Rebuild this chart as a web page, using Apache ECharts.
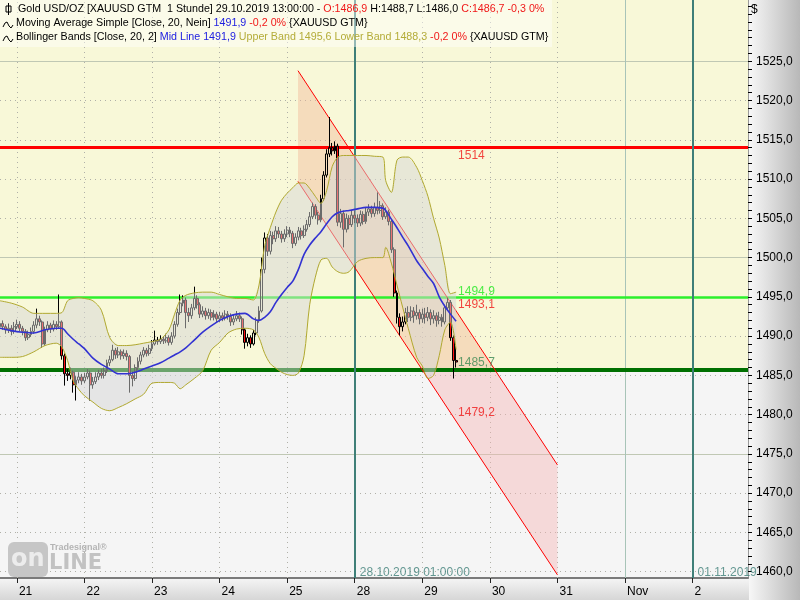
<!DOCTYPE html>
<html>
<head>
<meta charset="utf-8">
<title>Gold USD/OZ</title>
<script src="https://cdn.jsdelivr.net/npm/echarts@6.0.0/dist/echarts.min.js"></script>
<style>
  html, body { margin: 0; padding: 0; background: #fff; }
  #chart { width: 800px; height: 600px; }
</style>
</head>
<body>
<div id="chart"></div>
<script>
// Gold XAUUSD 1h, 18.10. evening .. 29.10.2019 13:00, 24 bars per trading day
const dayLabels = ['21', '22', '23', '24', '25', '28', '29', '30', '31', 'Nov', '2'];
const yLabels = [1460, 1465, 1470, 1475, 1480, 1485, 1490, 1495, 1500, 1505, 1510, 1515, 1520, 1525];

const firstOpen = 1491.2;
const closes = [
  1491.6, 1491.2, 1490.8, 1491.0, 1490.6, 1491.2,
  // 21
  1491.5, 1491.0, 1490.6, 1489.8, 1490.2, 1490.6, 1491.4, 1492.2, 1491.8, 1489.0, 1490.8, 1491.4,
  1490.9, 1491.5, 1491.2, 1491.8, 1487.5, 1485.2, 1485.0, 1485.4, 1483.8, 1484.4, 1484.8, 1484.3,
  // 22
  1484.8, 1485.3, 1483.8, 1484.2, 1484.8, 1485.3, 1485.0, 1485.6, 1486.6, 1487.0, 1488.2, 1487.6,
  1488.0, 1487.5, 1487.8, 1487.4, 1485.0, 1484.6, 1486.0, 1486.8, 1487.6, 1488.2, 1487.8, 1488.4,
  // 23
  1489.0, 1489.5, 1489.3, 1489.6, 1489.4, 1489.8, 1489.2, 1490.0, 1491.5, 1493.0, 1494.2, 1494.6,
  1493.0, 1492.6, 1493.6, 1494.8, 1494.0, 1492.8, 1493.2, 1492.6, 1493.0, 1492.4, 1492.8, 1492.2,
  // 24
  1492.6, 1492.3, 1492.8, 1492.5, 1491.8, 1492.2, 1492.6, 1492.2, 1490.8, 1489.2, 1489.8, 1489.0,
  1490.4, 1492.0, 1493.2, 1498.5, 1502.5, 1500.8, 1502.8, 1502.4, 1503.4, 1503.0, 1502.4, 1503.0,
  // 25
  1503.5, 1503.1, 1501.8, 1502.6, 1503.4, 1502.8, 1503.6, 1504.2, 1505.2, 1506.5, 1505.4, 1504.8,
  1507.5, 1510.5, 1513.2, 1514.0, 1513.6, 1514.2, 1504.5, 1505.6, 1503.6, 1505.0, 1504.2, 1505.4,
  // 28
  1505.0, 1504.4, 1505.5, 1504.6, 1505.8, 1506.2, 1505.6, 1506.4, 1506.0, 1506.6, 1505.2, 1505.8,
  1504.6, 1501.0, 1495.5, 1492.4, 1491.2, 1491.8, 1493.0, 1492.4, 1493.2, 1492.6, 1493.0, 1492.2,
  // 29
  1492.8, 1492.4, 1493.0, 1492.2, 1492.6, 1492.0, 1492.4, 1491.8, 1493.6, 1494.3, 1489.8, 1486.9, 1486.7
];
const highs = [
  1492.3, 1492.0, 1491.5, 1491.6, 1491.4, 1491.8,
  1492.1, 1491.9, 1491.3, 1490.9, 1490.7, 1491.1, 1491.9, 1493.5, 1492.6, 1492.0, 1491.2, 1491.9,
  1491.7, 1492.0, 1491.9, 1495.3, 1492.0, 1487.8, 1485.8, 1486.0, 1485.6, 1484.9, 1485.4, 1485.2,
  1485.3, 1485.8, 1485.6, 1484.8, 1485.4, 1485.7, 1485.8, 1486.0, 1487.0, 1487.5, 1488.9, 1488.5,
  1488.6, 1488.3, 1488.3, 1488.2, 1487.6, 1485.5, 1486.4, 1487.3, 1488.0, 1488.6, 1488.5, 1488.9,
  1489.5, 1490.7, 1489.9, 1490.1, 1490.0, 1490.3, 1490.1, 1490.5, 1491.9, 1493.5, 1495.3, 1495.2,
  1494.9, 1493.6, 1494.1, 1496.3, 1495.2, 1494.3, 1493.8, 1493.6, 1493.5, 1493.4, 1493.3, 1493.1,
  1493.1, 1493.0, 1493.3, 1493.2, 1492.9, 1492.7, 1493.2, 1493.0, 1492.5, 1491.0, 1490.3, 1490.1,
  1490.8, 1492.4, 1493.8, 1500.0, 1503.2, 1503.0, 1503.4, 1503.3, 1504.0, 1503.9, 1503.4, 1503.6,
  1504.0, 1503.9, 1503.4, 1503.1, 1503.9, 1503.8, 1504.1, 1504.8, 1505.8, 1507.0, 1506.8, 1505.8,
  1508.0, 1511.0, 1513.8, 1517.9, 1514.6, 1514.8, 1514.5, 1506.2, 1506.0, 1505.6, 1505.4, 1506.0,
  1506.0, 1505.5, 1506.0, 1505.9, 1506.4, 1506.8, 1506.6, 1507.0, 1508.3, 1507.2, 1506.9, 1506.4,
  1506.1, 1504.9, 1501.3, 1495.8, 1492.9, 1492.5, 1493.6, 1493.8, 1493.8, 1493.7, 1494.0, 1493.4,
  1493.5, 1493.6, 1493.7, 1493.4, 1493.3, 1493.0, 1493.1, 1492.8, 1494.0, 1494.9, 1494.6, 1490.1, 1488.7
];
const lows = [
  1490.9, 1490.8, 1490.3, 1490.4, 1490.1, 1490.3,
  1490.9, 1490.6, 1490.1, 1489.4, 1489.5, 1489.9, 1490.3, 1491.0, 1491.3, 1488.5, 1488.8, 1490.5,
  1490.4, 1490.6, 1490.8, 1490.9, 1487.0, 1483.7, 1484.3, 1484.5, 1482.8, 1481.8, 1484.0, 1483.8,
  1484.0, 1484.5, 1481.8, 1483.3, 1483.9, 1484.4, 1484.6, 1484.6, 1485.3, 1486.2, 1486.8, 1487.1,
  1487.2, 1487.0, 1487.1, 1486.9, 1482.8, 1483.6, 1484.3, 1485.7, 1486.4, 1487.3, 1487.4, 1487.5,
  1488.1, 1488.8, 1488.9, 1489.0, 1489.0, 1489.1, 1488.8, 1488.9, 1489.7, 1491.2, 1492.7, 1493.8,
  1491.0, 1491.8, 1492.2, 1493.3, 1493.5, 1492.3, 1492.4, 1492.1, 1492.2, 1492.0, 1492.0, 1491.8,
  1491.8, 1491.9, 1492.0, 1492.1, 1491.3, 1491.4, 1491.9, 1491.8, 1490.2, 1488.4, 1488.7, 1488.5,
  1488.8, 1490.1, 1491.7, 1493.0, 1498.0, 1500.2, 1500.4, 1501.7, 1502.0, 1502.5, 1501.9, 1502.0,
  1502.6, 1502.6, 1501.2, 1501.5, 1502.2, 1502.3, 1502.5, 1503.3, 1503.9, 1504.9, 1504.9, 1504.2,
  1504.5, 1507.2, 1510.2, 1512.8, 1513.0, 1513.2, 1504.0, 1503.8, 1501.3, 1503.2, 1503.6, 1503.9,
  1504.4, 1503.9, 1504.0, 1504.2, 1504.3, 1505.3, 1505.1, 1505.2, 1505.5, 1505.6, 1504.8, 1504.9,
  1504.1, 1500.6, 1495.0, 1491.6, 1490.1, 1490.6, 1491.5, 1491.8, 1491.9, 1491.7, 1492.1, 1491.5,
  1491.7, 1491.6, 1491.9, 1491.4, 1491.6, 1491.2, 1491.5, 1491.2, 1491.5, 1493.2, 1489.4, 1484.6, 1486.0
];

// Bollinger Bands / SMA 20 at these bar numbers
const bandIdx = [
  0, 4, 8, 12, 16, 20, 22, 24, 26, 28, 30, 33, 36, 39, 42, 45, 48, 51, 54, 57, 60, 62, 64, 66, 69, 72,
  75, 78, 81, 84, 87, 90, 92, 94, 96, 98, 100, 102, 104, 106, 108, 110, 112, 114, 116, 118, 120, 122,
  124, 127, 130, 133, 136, 137, 139, 141, 143, 145, 148, 150, 152, 154, 156, 158, 160, 162
];
const bandUpper = [
  1494.5, 1494.2, 1493.7, 1492.9, 1492.9, 1492.9, 1493.0, 1494.5, 1494.8, 1494.9, 1494.8, 1494.5, 1493.3,
  1489.8, 1488.8, 1488.8, 1488.9, 1489.1, 1489.3, 1489.6, 1490.8, 1492.8, 1494.6, 1495.2, 1495.5, 1495.6,
  1495.6, 1495.3, 1495.0, 1494.8, 1494.8, 1494.6, 1496.5, 1501.5, 1503.8, 1505.8, 1507.3, 1508.2, 1508.9,
  1509.5, 1509.5, 1508.8, 1507.8, 1506.9, 1508.5, 1511.6, 1512.8, 1513.0, 1513.0, 1513.0, 1513.0, 1512.9,
  1512.8, 1509.8, 1508.3, 1512.4, 1512.8, 1512.8, 1511.5, 1509.8, 1507.8, 1505.0, 1502.5, 1499.0, 1495.4, 1495.6
];
const bandLower = [
  1487.3, 1487.3, 1487.4, 1488.0, 1488.8, 1489.1, 1488.6, 1486.9, 1484.3, 1483.2, 1482.4, 1481.6, 1480.8,
  1480.5, 1480.9, 1481.4, 1482.0, 1482.6, 1484.0, 1484.1, 1484.1, 1484.0, 1483.3, 1483.8, 1484.6, 1485.6,
  1488.2, 1489.2, 1490.4, 1490.9, 1491.0, 1490.8, 1489.8, 1487.8, 1486.5, 1485.9, 1485.4, 1485.1, 1485.0,
  1485.3, 1487.5, 1494.0, 1497.5, 1499.7, 1499.9, 1498.8, 1498.2, 1498.0, 1498.2, 1499.5, 1499.9, 1500.0,
  1500.0, 1501.3, 1499.3, 1496.5, 1493.7, 1491.0, 1487.3, 1486.2, 1484.6, 1485.0, 1487.5, 1490.8, 1491.8, 1488.3
];
const maLine = [
  1491.0, 1490.7, 1490.5, 1490.4, 1490.8, 1491.0, 1491.0, 1490.3, 1489.6, 1489.0, 1488.4, 1487.2, 1486.4,
  1485.8, 1485.2, 1485.2, 1485.4, 1485.8, 1486.2, 1486.6, 1487.2, 1487.6, 1488.0, 1488.5, 1489.5, 1490.5,
  1491.3, 1492.0, 1492.5, 1492.8, 1492.9, 1492.2, 1492.0, 1492.4, 1493.1, 1494.3, 1495.3, 1496.2, 1497.0,
  1498.5, 1500.4, 1501.6, 1502.5, 1503.3, 1504.3, 1505.2, 1505.7, 1505.9, 1506.0, 1506.2, 1506.4, 1506.4,
  1506.3, 1506.0, 1504.9, 1503.8, 1502.6, 1501.5, 1499.6, 1498.6, 1497.6, 1496.7, 1495.0, 1493.8, 1492.8, 1491.9
];

// regression channel (x in trading days from the "21" tick)
const channelX = [4.16, 8.0];
const channelUpper = [1523.8, 1473.6];
const channelLower = [1509.7, 1459.6];
const channelLabels = [1493.1, 1479.2];

const levelRed = 1514;
const levelGreen = 1494.9;
const levelDark = 1485.7;

const markerDays = [5, 10];
const markerTexts = ['28.10.2019 01:00:00', '01.11.2019'];

const xMin = -0.25, xMax = 10.82;
const yMin = 1459.2, yMax = 1532.8;
const FONT = '"Liberation Sans", Arial, sans-serif';

const fmt = v => v.toFixed(1).replace('.', ',');
const barX = i => -0.25 + i / 24;

const candleData = closes.map((c, i) => [barX(i), i === 0 ? firstOpen : closes[i - 1], c, lows[i], highs[i]]);
const bandRows = bandIdx.map((k, j) => [barX(k), bandUpper[j], bandLower[j], maLine[j]]);
const lastX = barX(closes.length - 1);

const yTicks = [];
for (let v = 1460; v <= 1532; v++) yTicks.push(v);
const dayTicks = dayLabels.map((d, i) => i);

// grid lines
const gridLines = [];
yLabels.forEach(v => {
  const solid = v % 25 === 0;
  gridLines.push({
    yAxis: v,
    lineStyle: solid ? { color: '#c0c8b4', type: 'solid', width: 1 } : { color: '#b0b0a8', type: [1, 4], width: 1 }
  });
});
dayTicks.forEach(k => {
  if (markerDays.includes(k)) return;
  gridLines.push({
    xAxis: k,
    lineStyle: dayLabels[k] === 'Nov' ? { color: '#a8c4b8', type: 'solid', width: 1 } : { color: '#b0b0a8', type: [1, 4], width: 1 }
  });
});

// keep the part of a polygon above (or below) a horizontal pixel line
function clipY(pts, yc, keepAbove) {
  const inside = p => keepAbove ? p[1] <= yc : p[1] >= yc;
  const out = [];
  for (let i = 0; i < pts.length; i++) {
    const p = pts[i], q = pts[(i + 1) % pts.length];
    const pin = inside(p), qin = inside(q);
    if (pin) out.push(p);
    if (pin !== qin) {
      const t = (yc - p[1]) / (q[1] - p[1]);
      out.push([p[0] + t * (q[0] - p[0]), yc]);
    }
  }
  return out;
}

function bandPolygon(params, api) {
  if (params.dataIndex !== 0) return null;
  const pts = [];
  for (let i = 0; i < bandRows.length; i++) pts.push(api.coord([bandRows[i][0], bandRows[i][1]]));
  for (let i = bandRows.length - 1; i >= 0; i--) pts.push(api.coord([bandRows[i][0], bandRows[i][2]]));
  return { type: 'polygon', shape: { points: pts }, style: { fill: 'rgba(214,214,214,0.5)' } };
}

// channel tint looks different on the yellow and on the grey zone
function channelPolygon(params, api) {
  if (params.dataIndex !== 0) return null;
  const pts = [
    api.coord([channelX[0], channelUpper[0]]), api.coord([channelX[1], channelUpper[1]]),
    api.coord([channelX[1], channelLower[1]]), api.coord([channelX[0], channelLower[0]])
  ];
  const ySplit = api.coord([0, levelDark])[1];
  return {
    type: 'group',
    children: [
      { type: 'polygon', shape: { points: clipY(pts, ySplit, true) }, style: { fill: 'rgba(240,180,150,0.42)' } },
      { type: 'polygon', shape: { points: clipY(pts, ySplit, false) }, style: { fill: 'rgba(245,178,178,0.42)' } }
    ]
  };
}

const chart = echarts.init(document.getElementById('chart'));

const lastO = closes[closes.length - 2], lastC = closes[closes.length - 1];
const lastH = highs[highs.length - 1], lastL = lows[lows.length - 1];
const lastMA = maLine[maLine.length - 1];

const header1 = '{k|Gold USD/OZ [XAUUSD GTM  1 Stunde] 29.10.2019 13:00:00 - }{r|O:' + fmt(lastO) + '}{k| H:' +
  fmt(lastH) + ' L:' + fmt(lastL) + ' }{r|C:' + fmt(lastC) + ' -0,3 0%}';
const header2 = '{k|Moving Average Simple [Close, 20, Nein] }{b|' + fmt(lastMA) + '}{r| -0,2 0%} {XAUUSD GTM}';
const header3 = '{k|Bollinger Bands [Close, 20, 2] }{b|Mid Line ' + fmt(lastMA) + '}{o| Upper Band ' +
  fmt(bandUpper[bandUpper.length - 1]) + ' Lower Band ' + fmt(bandLower[bandLower.length - 1]) +
  '}{r| -0,2 0%} {XAUUSD GTM}';
const HFONT = '10.7px ' + FONT;
const richStyles = {
  k: { fill: '#000', font: HFONT },
  r: { fill: '#f01818', font: HFONT },
  b: { fill: '#2020e0', font: HFONT },
  o: { fill: '#b4ac38', font: HFONT }
};

function wave(x, y) {
  return {
    type: 'polyline', z: 100,
    shape: { points: [[x, y + 4], [x + 2, y], [x + 4, y - 1], [x + 6, y + 3], [x + 8, y + 5], [x + 10, y + 2]] },
    style: { stroke: '#000', lineWidth: 1, fill: null }
  };
}

chart.setOption({
  animation: false,
  backgroundColor: '#ffffff',
  grid: { left: 0, right: 52, top: 0, bottom: 22 },
  xAxis: {
    type: 'value', min: xMin, max: xMax,
    axisLine: { show: true, onZero: false, lineStyle: { color: '#7a7a7a', width: 2 } },
    axisTick: { show: true, customValues: dayTicks, length: 5, lineStyle: { color: '#222' } },
    axisLabel: {
      customValues: dayTicks, formatter: v => dayLabels[Math.round(v)],
      align: 'left', padding: [0, 0, 0, 2], margin: 8, color: '#000', fontSize: 12, fontFamily: FONT
    },
    splitLine: { show: false }
  },
  yAxis: {
    type: 'value', position: 'right', min: yMin, max: yMax,
    axisLine: { show: true, onZero: false, lineStyle: { color: '#9a9a9a' } },
    axisTick: { show: true, customValues: yTicks, length: 4, lineStyle: { color: '#000' } },
    axisLabel: { customValues: yLabels, formatter: v => fmt(v), margin: 8, color: '#000', fontSize: 12, fontFamily: FONT },
    splitLine: { show: false }
  },
  graphic: [
    {
      type: 'rect', z: -10, silent: true, shape: { x: 749, y: 0, width: 51, height: 600 },
      style: { fill: new echarts.graphic.LinearGradient(0, 0, 1, 0, [{ offset: 0, color: '#f7f7f7' }, { offset: 1, color: '#b8b8b8' }]) }
    },
    {
      type: 'rect', z: -10, silent: true, shape: { x: 0, y: 579, width: 749, height: 21 },
      style: { fill: new echarts.graphic.LinearGradient(0, 0, 0, 1, [{ offset: 0, color: '#f4f4f4' }, { offset: 1, color: '#d6d6d6' }]) }
    },
    { type: 'text', z: 100, left: 751, top: 4, style: { text: '$', font: '12px ' + FONT, fill: '#000' } },
    { type: 'rect', z: 99, silent: true, shape: { x: 0, y: 0, width: 552, height: 47 }, style: { fill: 'rgba(255,255,255,0.45)' } },
    { type: 'rect', z: 100, shape: { x: 6, y: 6, width: 5, height: 6 }, style: { stroke: '#000', fill: null, lineWidth: 1 } },
    { type: 'line', z: 100, shape: { x1: 8.5, y1: 3, x2: 8.5, y2: 15 }, style: { stroke: '#000', lineWidth: 1 } },
    { type: 'text', z: 100, x: 18, y: 4, style: { text: header1, rich: richStyles, font: HFONT, fill: '#000' } },
    wave(3, 23),
    { type: 'text', z: 100, x: 16, y: 18, style: { text: header2, rich: richStyles, font: HFONT, fill: '#000' } },
    wave(3, 37),
    { type: 'text', z: 100, x: 16, y: 32, style: { text: header3, rich: richStyles, font: HFONT, fill: '#000' } },
    // logo
    { type: 'rect', z: 90, shape: { x: 8, y: 542, width: 40, height: 35, r: 6 }, style: { fill: '#c6c6c6' } },
    { type: 'text', z: 91, x: 11, y: 548, style: { text: 'on', font: 'bold 24px "DejaVu Sans"', fill: '#ececec' } },
    { type: 'text', z: 91, x: 49, y: 553, style: { text: 'LINE', font: 'bold 21px "DejaVu Sans"', fill: '#c2c2c2' } },
    { type: 'text', z: 91, x: 50, y: 543, style: { text: 'Tradesignal®', font: 'bold 9px ' + FONT, fill: '#b4b4b4' } }
  ],
  series: [
    {
      name: 'zones', type: 'line', data: [], silent: true, z: 0,
      markArea: {
        silent: true, z: 0,
        data: [
          [{ yAxis: levelDark, itemStyle: { color: '#f8f8d8' } }, { yAxis: yMax }],
          [{ yAxis: yMin, itemStyle: { color: '#f5f5f5' } }, { yAxis: levelDark }]
        ]
      }
    },
    {
      name: 'grid', type: 'line', data: [], silent: true, z: 1,
      markLine: { silent: true, z: 1, symbol: ['none', 'none'], label: { show: false }, data: gridLines }
    },
    {
      name: 'channelFill', type: 'custom', z: 2, silent: true, clip: true,
      data: channelX.map((x, i) => [x, channelUpper[i], channelLower[i]]),
      encode: { x: 0, y: [1, 2] },
      renderItem: channelPolygon
    },
    {
      name: 'levels', type: 'line', data: [], silent: true, z: 3,
      markLine: {
        silent: true, z: 3, symbol: ['none', 'none'], label: { show: false },
        data: [
          { yAxis: levelRed, lineStyle: { color: '#ff0000', width: 3, type: 'solid' } },
          { yAxis: levelGreen, lineStyle: { color: '#2cf02c', width: 2.5, type: 'solid' } },
          { yAxis: levelDark, lineStyle: { color: '#007000', width: 4, type: 'solid' } },
          { xAxis: markerDays[0], lineStyle: { color: '#3f7f78', width: 2, type: 'solid' } },
          { xAxis: markerDays[1], lineStyle: { color: '#3f7f78', width: 2, type: 'solid' } }
        ]
      }
    },
    {
      name: 'channelUpper', type: 'line', z: 3, silent: true, showSymbol: false, clip: true,
      data: channelX.map((x, i) => [x, channelUpper[i]]),
      lineStyle: { color: '#ff0000', width: 1 }
    },
    {
      name: 'channelLower', type: 'line', z: 3, silent: true, showSymbol: false, clip: true,
      data: channelX.map((x, i) => [x, channelLower[i]]),
      lineStyle: { color: '#ff0000', width: 1 }
    },
    {
      name: 'Gold', type: 'candlestick', z: 4, silent: true,
      data: candleData,
      encode: { x: 0, y: [1, 2, 3, 4] },
      barWidth: 2.4,
      itemStyle: { color: 'rgba(0,0,0,0)', color0: '#ff1010', borderColor: '#000', borderColor0: '#000', borderWidth: 1 }
    },
    {
      name: 'bandFill', type: 'custom', z: 5, silent: true, clip: true,
      data: bandRows,
      encode: { x: 0, y: [1, 2] },
      renderItem: bandPolygon
    },
    {
      name: 'Upper Band', type: 'line', z: 6, silent: true, showSymbol: false, smooth: 0.3,
      data: bandRows.map(r => [r[0], r[1]]), lineStyle: { color: '#b0a830', width: 1 }
    },
    {
      name: 'Lower Band', type: 'line', z: 6, silent: true, showSymbol: false, smooth: 0.3,
      data: bandRows.map(r => [r[0], r[2]]), lineStyle: { color: '#b0a830', width: 1 }
    },
    {
      name: 'SMA 20', type: 'line', z: 6, silent: true, showSymbol: false, smooth: 0.3,
      data: bandRows.map(r => [r[0], r[3]]), lineStyle: { color: '#3232d2', width: 1.6 }
    },
    {
      name: 'labels', type: 'scatter', z: 7, silent: true, symbolSize: 0,
      label: { show: true, position: 'right', distance: 2, fontSize: 12, fontFamily: FONT },
      data: [
        { value: [lastX, levelRed], label: { formatter: String(levelRed), color: '#f01818', offset: [0, 8] } },
        { value: [lastX, levelGreen], label: { formatter: fmt(levelGreen), color: '#22e822', offset: [0, -6] } },
        { value: [lastX, channelLabels[0]], label: { formatter: fmt(channelLabels[0]), color: '#f01818', offset: [0, -7] } },
        { value: [lastX, levelDark], label: { formatter: fmt(levelDark), color: '#3c8a54', offset: [0, -7] } },
        { value: [lastX, channelLabels[1]], label: { formatter: fmt(channelLabels[1]), color: '#f01818', offset: [0, -8] } },
        { value: [markerDays[0], 1459.9], label: { formatter: markerTexts[0], color: '#3f7f78', distance: 5 } },
        { value: [markerDays[1], 1459.9], label: { formatter: markerTexts[1], color: '#3f7f78', distance: 5 } }
      ]
    }
  ]
});
</script>
</body>
</html>
